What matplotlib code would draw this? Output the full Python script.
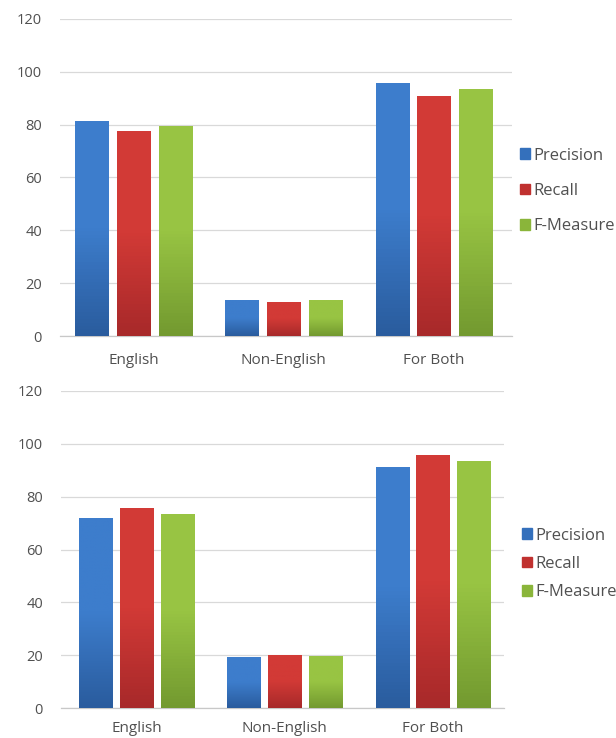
import numpy as np
import matplotlib
matplotlib.use("Agg")
import matplotlib.pyplot as plt
from matplotlib.colors import LinearSegmentedColormap

# ===== data =====
categories = ["English", "Non-English", "For Both"]
series_names = ["Precision", "Recall", "F-Measure"]

top_precision = [81.4, 13.6, 95.7]
top_recall = [77.7, 13.0, 90.9]
top_fmeasure = [79.6, 13.6, 93.4]

bottom_precision = [72.0, 19.3, 91.3]
bottom_recall = [75.6, 20.1, 95.7]
bottom_fmeasure = [73.4, 19.7, 93.4]

y_ticks = [0, 20, 40, 60, 80, 100, 120]

# flat colour for legend, (light, dark) for bar gradient
colors = ["#3470BC", "#C0312F", "#8AB53A"]
grads = [("#3D7DCC", "#2A5C9E"), ("#D23A36", "#A8292A"), ("#98C443", "#739A30")]

plt.rcParams["font.family"] = ["Open Sans", "DejaVu Sans"]

fig = plt.figure(figsize=(6.16, 7.38), dpi=100)


def draw_panel(rect, data, xlim, width, pitch, xpad):
    ax = fig.add_axes(rect)
    x = np.arange(len(categories))
    for i, (name, vals) in enumerate(zip(series_names, data)):
        bars = ax.bar(x + (i - 1) * pitch, vals, width, color=colors[i], label=name, zorder=3)
        cmap = LinearSegmentedColormap.from_list(name, [grads[i][1], grads[i][0], grads[i][0]])
        for b in bars:
            b.set_alpha(0.0)
            x0, y0 = b.get_x(), b.get_y()
            x1, y1 = x0 + b.get_width(), y0 + b.get_height()
            grad = np.linspace(0, 1, 64).reshape(-1, 1)
            im = ax.imshow(grad, cmap=cmap, extent=(x0, x1, y0, y1), origin="lower",
                           aspect="auto", zorder=3)
            im.set_clip_path(b)
    ax.set_xlim(*xlim)
    ax.set_ylim(0, 120)
    ax.set_yticks(y_ticks)
    ax.set_xticks(x)
    ax.set_xticklabels(categories)
    ax.grid(axis="y", color="#D9D9D9", linewidth=0.9, zorder=0)
    ax.set_axisbelow(True)
    for s in ["top", "right", "left"]:
        ax.spines[s].set_visible(False)
    ax.spines["bottom"].set_color("#C8C8C8")
    ax.spines["bottom"].set_linewidth(0.9)
    ax.tick_params(axis="y", length=0, pad=13, labelsize=10.5, labelcolor="#505050")
    ax.tick_params(axis="x", length=0, pad=xpad, labelsize=11, labelcolor="#505050")
    return ax


ax1 = draw_panel([0.0974, 0.5447, 0.7338, 0.4296], [top_precision, top_recall, top_fmeasure],
                 (-0.49, 2.52), 0.22, 0.278, 12)
ax2 = draw_panel([0.099, 0.0402, 0.719, 0.4304], [bottom_precision, bottom_recall, bottom_fmeasure],
                 (-0.51, 2.48), 0.223, 0.275, 9)

# two separate legends, spacing differs a bit between the panels
for xa, yc, ls in [(0.844, 0.7412, 1.16), (0.847, 0.2358, 0.74)]:
    h = [plt.Rectangle((0, 0), 1, 1, color=c) for c in colors]
    fig.legend(h, series_names, loc="center left", bbox_to_anchor=(xa, yc),
               frameon=False, handlelength=0.6, handleheight=0.6, handletextpad=0.2,
               labelspacing=ls, fontsize=12, labelcolor="#505050", borderaxespad=0,
               borderpad=0)

fig.savefig("out.png", dpi=100)
